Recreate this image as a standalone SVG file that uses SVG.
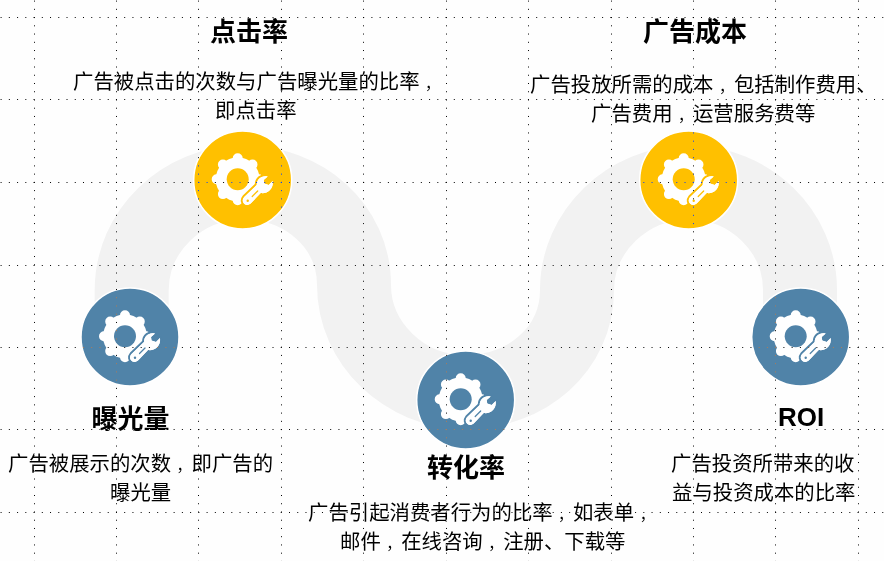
<svg xmlns="http://www.w3.org/2000/svg" width="884" height="561" viewBox="0 0 884 561">
<style>
text{font-family:"Noto Sans CJK SC","Liberation Sans",sans-serif;fill:#000}
.b{font-size:20.4px}
.c{font-size:15px}
.t{font-size:26px;font-weight:700}
.disc{stroke:#fff;stroke-width:1.5}
.y{fill:#ffc000;color:#ffc000}
.s{fill:#5083a8;color:#5083a8}
.grid line{stroke:#fff;stroke-width:1;stroke-dasharray:1 7.24}
.grid{mix-blend-mode:difference}
</style>
<defs>
<g id="icon">
<g transform="translate(-5,-0.7)">
<circle r="22" fill="#fff"/>
<path d="M0,-17V-21M14.8,-14.8L12,-12M21,0H17M14.8,14.8L12,12M0,21V17M-14.8,14.8L-12,12M-21,0H-17M-14.8,-14.8L-12,-12" stroke="#fff" stroke-width="10" stroke-linecap="round" fill="none"/>
<circle r="11" fill="currentColor"/>
</g>
<path d="M25,-3.5C19,-5 14,-1 14,5L1.5,17C-1,20 0,23 2.5,24.5C5,25.5 7,24.5 8.5,23L18,13C25,14 31,9 30,1L26,5L21.5,3.5L21,0Z" fill="#fff" stroke="currentColor" stroke-width="4" paint-order="stroke" stroke-linejoin="round"/>
<path d="M25,-3.5C19,-5 14,-1 14,5L1.5,17C-1,20 0,23 2.5,24.5C5,25.5 7,24.5 8.5,23L18,13C25,14 31,9 30,1L26,5L21.5,3.5L21,0Z" fill="#fff"/>
<circle cx="5" cy="20.7" r="1.2" fill="currentColor"/>
<path d="M9.5,16.5L15,11" stroke="currentColor" stroke-width="1.2" stroke-linecap="round"/>
</g>
</defs>
<rect width="884" height="561" fill="#fefefe"/>
<g id="connectors">
<path d="M131.7,340V290C131.7,231 182,182.5 243,182.5C304,182.5 354,226 354,285C354,343 404,392 465.5,392C527,392 577,349 577,290C577,231 628,182.5 688.7,182.5C750,182.5 800,231 800,290V340" fill="none" stroke="#f2f2f2" stroke-width="74"/>
</g>
<g id="node-exposure">
<circle class="disc s" cx="130" cy="337" r="49"/>
<use href="#icon" x="130" y="337" class="s"/>
<text class="t" x="91.500" y="428">曝光量</text>
<text class="b" x="8" y="471">广告被展示的次数<tspan class="c" dx="5.400">，</tspan>即广告的</text>
<text class="b" x="110" y="500">曝光量</text>
</g>
<g id="node-ctr">
<circle class="disc y" cx="242.7" cy="180" r="49"/>
<use href="#icon" x="242.7" y="180" class="y"/>
<text class="t" x="210" y="41">点击率</text>
<text class="b" x="73" y="89">广告被点击的次数与广告曝光量的比率<tspan class="c" dx="5.400">，</tspan></text>
<text class="b" x="215" y="118">即点击率</text>
</g>
<g id="node-cvr">
<circle class="disc s" cx="465.7" cy="400" r="49"/>
<use href="#icon" x="465.7" y="400" class="s"/>
<text class="t" x="427" y="477">转化率</text>
<text class="b" x="308" y="520">广告引起消费者行为的比率<tspan class="c" dx="5.400">，</tspan>如表单<tspan class="c" dx="5.400">，</tspan></text>
<text class="b" x="340" y="549">邮件<tspan class="c" dx="5.400">，</tspan>在线咨询<tspan class="c" dx="5.400">，</tspan>注册、下载等</text>
</g>
<g id="node-cost">
<circle class="disc y" cx="688.7" cy="180" r="49"/>
<use href="#icon" x="688.7" y="180" class="y"/>
<text class="t" x="643" y="41">广告成本</text>
<text class="b" x="530" y="92">广告投放所需的成本<tspan class="c" dx="5.400">，</tspan>包括制作费用、</text>
<text class="b" x="591" y="121">广告费用<tspan class="c" dx="5.400">，</tspan>运营服务费等</text>
</g>
<g id="node-roi">
<circle class="disc s" cx="800.7" cy="337" r="49"/>
<use href="#icon" x="800.7" y="337" class="s"/>
<text class="t" x="778" y="426" style="font-family:'Liberation Sans','Noto Sans CJK SC',sans-serif">ROI</text>
<text class="b" x="671" y="471">广告投资所带来的收</text>
<text class="b" x="672" y="500">益与投资成本的比率</text>
</g>
<g class="grid">
<line x1="34.5" y1="0.6" x2="34.5" y2="561"/><line x1="116.5" y1="0.6" x2="116.5" y2="561"/><line x1="198.5" y1="0.6" x2="198.5" y2="561"/><line x1="281.5" y1="0.6" x2="281.5" y2="561"/><line x1="363.5" y1="0.6" x2="363.5" y2="561"/><line x1="446.5" y1="0.6" x2="446.5" y2="561"/><line x1="528.5" y1="0.6" x2="528.5" y2="561"/><line x1="611.5" y1="0.6" x2="611.5" y2="561"/><line x1="693.5" y1="0.6" x2="693.5" y2="561"/><line x1="775.5" y1="0.6" x2="775.5" y2="561"/><line x1="858.5" y1="0.6" x2="858.5" y2="561"/>
<line x1="0.6" y1="17.5" x2="884" y2="17.5"/><line x1="0.6" y1="99.5" x2="884" y2="99.5"/><line x1="0.6" y1="182.5" x2="884" y2="182.5"/><line x1="0.6" y1="265.5" x2="884" y2="265.5"/><line x1="0.6" y1="347.5" x2="884" y2="347.5"/><line x1="0.6" y1="429.5" x2="884" y2="429.5"/><line x1="0.6" y1="512.5" x2="884" y2="512.5"/>
</g>
</svg>
